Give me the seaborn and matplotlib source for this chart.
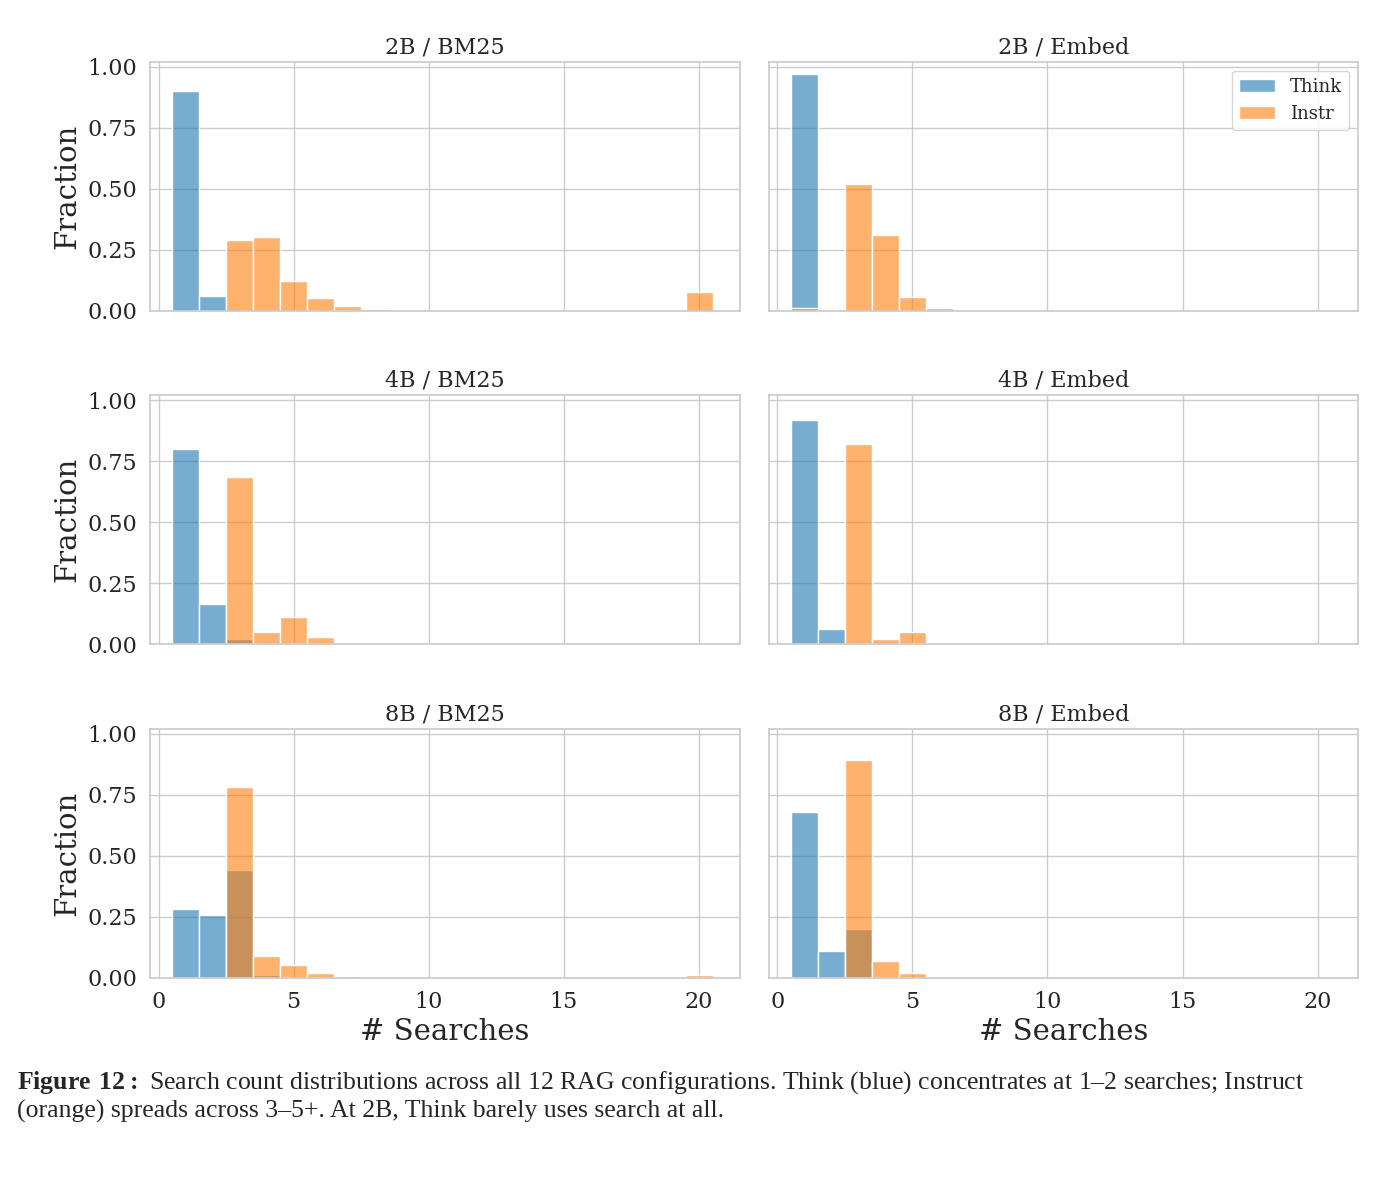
import matplotlib
matplotlib.use("Agg")
import matplotlib.pyplot as plt
import pandas as pd
import seaborn as sns

# search counts (bins) and fractions per panel
think_bins = {
    "2B / BM25": [1, 2], "2B / Embed": [1],
    "4B / BM25": [1, 2, 3], "4B / Embed": [1, 2],
    "8B / BM25": [1, 2, 3, 4], "8B / Embed": [1, 2, 3],
}
think_frac = {
    "2B / BM25": [0.90, 0.06], "2B / Embed": [0.97],
    "4B / BM25": [0.80, 0.165, 0.02], "4B / Embed": [0.92, 0.06],
    "8B / BM25": [0.28, 0.255, 0.44, 0.01], "8B / Embed": [0.68, 0.11, 0.20],
}
instr_bins = {
    "2B / BM25": [3, 4, 5, 6, 7, 8, 20], "2B / Embed": [1, 3, 4, 5, 6, 7],
    "4B / BM25": [3, 4, 5, 6, 7, 20], "4B / Embed": [3, 4, 5],
    "8B / BM25": [3, 4, 5, 6, 7, 8, 20], "8B / Embed": [3, 4, 5],
}
instr_frac = {
    "2B / BM25": [0.29, 0.30, 0.12, 0.05, 0.02, 0.007, 0.075],
    "2B / Embed": [0.01, 0.52, 0.31, 0.055, 0.01, 0.002],
    "4B / BM25": [0.685, 0.05, 0.11, 0.03, 0.006, 0.003],
    "4B / Embed": [0.82, 0.02, 0.05],
    "8B / BM25": [0.78, 0.09, 0.05, 0.02, 0.005, 0.002, 0.01],
    "8B / Embed": [0.89, 0.07, 0.02],
}
panels = ["2B / BM25", "2B / Embed", "4B / BM25", "4B / Embed", "8B / BM25", "8B / Embed"]

sns.set_theme(style="whitegrid")
plt.rcParams["font.family"] = ["DejaVu Serif"]
plt.rcParams["mathtext.fontset"] = "custom"
plt.rcParams["mathtext.rm"] = "Liberation Serif"
plt.rcParams["mathtext.bf"] = "Liberation Serif:bold"

fig, axes = plt.subplots(3, 2, figsize=(13.93, 11.85), dpi=100, sharex=True, sharey=True)
plt.subplots_adjust(left=0.108, right=0.975, top=0.948, bottom=0.175, wspace=0.05, hspace=0.34)

for ax, name in zip(axes.flat, panels):
    dt = pd.DataFrame({"n": think_bins[name], "frac": think_frac[name]})
    di = pd.DataFrame({"n": instr_bins[name], "frac": instr_frac[name]})
    # Think first, Instr layered on top
    sns.histplot(data=dt, x="n", weights="frac", discrete=True, alpha=0.6, color="#1f77b4",
                 edgecolor="white", linewidth=1, ax=ax, label="Think")
    sns.histplot(data=di, x="n", weights="frac", discrete=True, alpha=0.6, color="#ff7f0e",
                 edgecolor="white", linewidth=1, ax=ax, label="Instr")
    ax.set_title(name, fontsize=16)
    ax.set_xlim(-0.3, 21.5)
    ax.set_ylim(0, 1.02)
    ax.set_yticks([0, 0.25, 0.5, 0.75, 1.0])
    ax.set_xticks([0, 5, 10, 15, 20])
    ax.tick_params(labelsize=16)
    ax.set_xlabel("# Searches" if name.startswith("8B") else "", fontsize=21)
    ax.set_ylabel("Fraction" if name.endswith("BM25") else "", fontsize=21)
    for s in ax.spines.values():
        s.set_color("#cccccc")

axes[0, 1].legend(loc="upper right", fontsize=13)

fig.text(0.012, 0.052, r"$\bf{Figure\ 12:}$ Search count distributions across all 12 RAG configurations. "
         "Think (blue) concentrates at 1\u20132 searches; Instruct\n(orange) spreads across 3\u20135+. "
         "At 2B, Think barely uses search at all.",
         fontsize=18.5, family="Liberation Serif", va="bottom", linespacing=1.25)

fig.savefig("out.png")
